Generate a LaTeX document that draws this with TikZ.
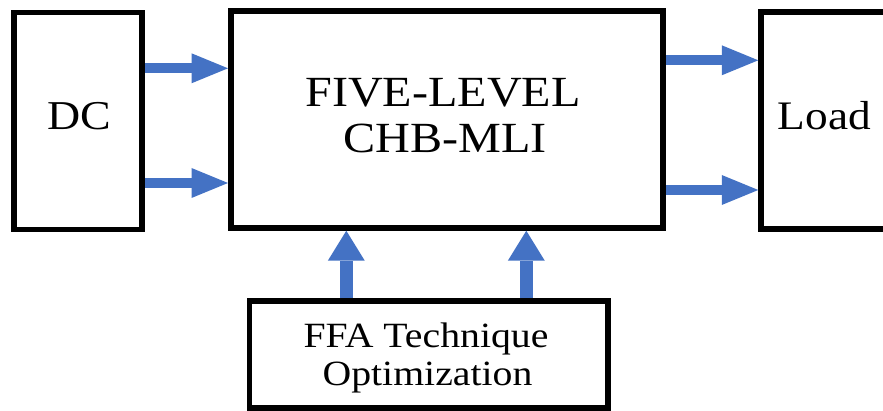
\documentclass[tikz,border=0pt]{standalone}
\usepackage{fontspec}
\setmainfont{Liberation Serif}
\newfontfamily\diagfont[FakeStretch=1.12]{Liberation Serif}
\usetikzlibrary{arrows.meta}
\definecolor{arrblue}{RGB}{68,114,196}
\tikzset{
  blockbox/.style={draw=black, line width=5.5pt, fill=white, inner sep=0pt, outer sep=2.75pt},
  lbl/.style={inner sep=0pt, anchor=base, font=\diagfont},
  flowh/.style={draw=arrblue, line width=10pt, -{Triangle[width=30pt,length=36.5pt,line width=0pt]}},
  flowv/.style={draw=arrblue, line width=12.5pt, -{Triangle[width=37pt,length=30pt,line width=0pt]}}
}
\begin{document}
\begin{tikzpicture}[x=1pt,y=-1pt]
\useasboundingbox (0,0) rectangle (883,411);
\clip (0,0) rectangle (883,411);
\fill[white] (0,0) rectangle (883,411);
% blocks
\node[blockbox, minimum width=128pt, minimum height=217pt] (dc) at (78,121) {};
\node[blockbox, minimum width=432.3pt, minimum height=217pt] (main) at (446.9,119.5) {};
\node[blockbox, minimum width=150pt, minimum height=217pt] (load) at (836,120.5) {};
\node[blockbox, minimum width=358.5pt, minimum height=107pt] (ffa) at (428.75,354.5) {};
% texts
\node[lbl, font=\diagfont\fontsize{41}{41}\selectfont] (dct) at (79.5,130) {DC};
\node[lbl, font=\diagfont\fontsize{43}{43}\selectfont] (mt1) at (443,107) {FIVE-LEVEL};
\node[lbl, font=\diagfont\fontsize{43}{43}\selectfont] (mt2) at (445,153) {CHB-MLI};
\node[lbl, font=\diagfont\fontsize{40.5}{40.5}\selectfont] (lt) at (824.5,129.5) {Load};
\node[lbl, font=\diagfont\fontsize{35.5}{35.5}\selectfont] (ft1) at (426,348) {FFA Technique};
\node[lbl, font=\diagfont\fontsize{35.5}{35.5}\selectfont] (ft2) at (427.5,385) {Optimization};
% arrow levels
\coordinate (l1) at (0,68.3);
\coordinate (l2) at (0,183);
\coordinate (r1) at (0,60.3);
\coordinate (r2) at (0,190);
\coordinate (u1) at (346.3,0);
\coordinate (u2) at (526.3,0);
% connectors
\draw[flowh] (dc.east |- l1) -- (main.west |- l1);
\draw[flowh] (dc.east |- l2) -- (main.west |- l2);
\draw[flowh] (main.east |- r1) -- (load.west |- r1);
\draw[flowh] (main.east |- r2) -- (load.west |- r2);
\draw[flowv] (u1 |- ffa.north) -- (u1 |- main.south);
\draw[flowv] (u2 |- ffa.north) -- (u2 |- main.south);
\end{tikzpicture}
\end{document}
